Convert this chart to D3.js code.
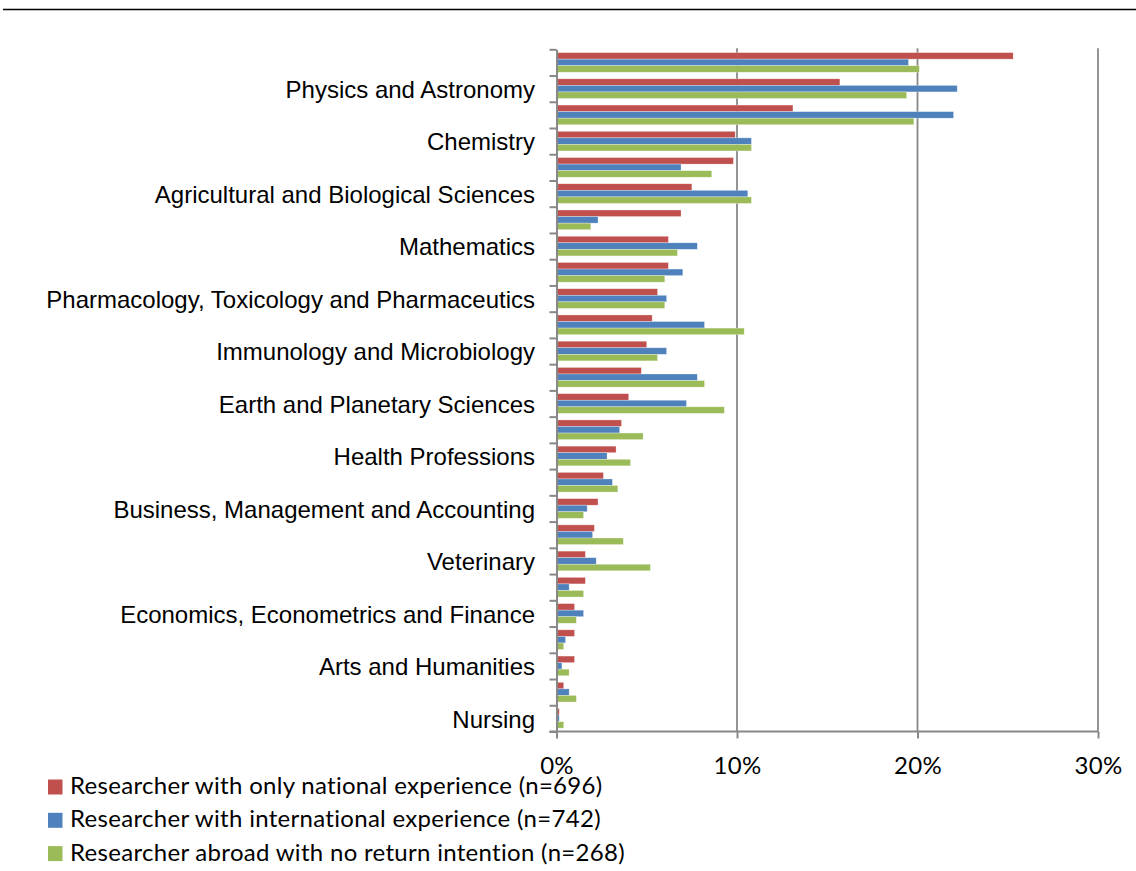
<!DOCTYPE html>
<html>
<head>
<meta charset="utf-8">
<script src="https://cdn.jsdelivr.net/npm/d3@7"></script>
<style>
  body { margin: 0; background: #fff; }
  .cat text { font-family: "Liberation Sans", Arial, sans-serif; font-size: 24px; fill: #000; }
  .xax text, .legend text { font-family: Lato, "Open Sans", sans-serif; font-size: 24px; letter-spacing: 0.3px; fill: #000; }
</style>
</head>
<body>
<div id="chart"></div>
<script>
// categories top to bottom; only every other one gets a label (as in the original)
var categories = [
  "Engineering", "Physics and Astronomy", "Materials Science", "Chemistry",
  "Biochemistry, Genetics and Molecular Biology", "Agricultural and Biological Sciences",
  "Medicine", "Mathematics", "Computer Science", "Pharmacology, Toxicology and Pharmaceutics",
  "Chemical Engineering", "Immunology and Microbiology", "Environmental Science",
  "Earth and Planetary Sciences", "Energy", "Health Professions", "Neuroscience",
  "Business, Management and Accounting", "Social Sciences", "Veterinary", "Decision Sciences",
  "Economics, Econometrics and Finance", "Psychology", "Arts and Humanities", "Dentistry", "Nursing"
];
var labelled = [
  "Physics and Astronomy", "Chemistry", "Agricultural and Biological Sciences", "Mathematics",
  "Pharmacology, Toxicology and Pharmaceutics", "Immunology and Microbiology",
  "Earth and Planetary Sciences", "Health Professions", "Business, Management and Accounting",
  "Veterinary", "Economics, Econometrics and Finance", "Arts and Humanities", "Nursing"
];

var seriesNames = [
  "Researcher with only national experience (n=696)",
  "Researcher with international experience (n=742)",
  "Researcher abroad with no return intention (n=268)"
];
var seriesColors = ["#C0504D", "#4F81BD", "#9BBB59"];

// percent values, same order as categories
var national = [25.3, 15.7, 13.1, 9.9, 9.8, 7.5, 6.9, 6.2, 6.2, 5.6, 5.3, 5.0, 4.7,
  4.0, 3.6, 3.3, 2.6, 2.3, 2.1, 1.6, 1.6, 1.0, 1.0, 1.0, 0.4, 0.15];
var international = [19.5, 22.2, 22.0, 10.8, 6.9, 10.6, 2.3, 7.8, 7.0, 6.1, 8.2, 6.1, 7.8,
  7.2, 3.5, 2.8, 3.1, 1.7, 2.0, 2.2, 0.7, 1.5, 0.5, 0.3, 0.7, 0.15];
var abroad = [20.1, 19.4, 19.8, 10.8, 8.6, 10.8, 1.9, 6.7, 6.0, 6.0, 10.4, 5.6, 8.2,
  9.3, 4.8, 4.1, 3.4, 1.5, 3.7, 5.2, 1.5, 1.1, 0.4, 0.7, 1.1, 0.4];

var xTicks = [0, 10, 20, 30];

var width = 1136, height = 871;
var plotLeft = 556.5, plotRight = 1098, plotTop = 49.3, plotBottom = 731.5;

var svg = d3.select("#chart").append("svg")
  .attr("width", width)
  .attr("height", height);

// rule across the top of the page
svg.append("line")
  .attr("x1", 3).attr("x2", width)
  .attr("y1", 9.5).attr("y2", 9.5)
  .attr("stroke", "#000").attr("stroke-width", 1.5);

var x = d3.scaleLinear().domain([0, 30]).range([plotLeft, plotRight]);

var y = d3.scaleBand().domain(categories).range([plotTop, plotBottom])
  .paddingInner(0.25).paddingOuter(0.125);

var y1 = d3.scaleBand().domain([0, 1, 2]).range([0, y.bandwidth()]);

// gridlines
svg.append("g").selectAll("line")
  .data(xTicks.slice(1))
  .enter().append("line")
  .attr("x1", function(d) { return x(d); })
  .attr("x2", function(d) { return x(d); })
  .attr("y1", plotTop - 1).attr("y2", plotBottom)
  .attr("stroke", "#888").attr("stroke-width", 1.8);

var rows = categories.map(function(c, i) {
  return { name: c, values: [national[i], international[i], abroad[i]] };
});

var groups = svg.append("g").selectAll("g")
  .data(rows)
  .enter().append("g")
  .attr("transform", function(d) { return "translate(0," + y(d.name) + ")"; });

groups.selectAll("rect")
  .data(function(d) { return d.values; })
  .enter().append("rect")
  .attr("x", x(0))
  .attr("y", function(d, i) { return y1(i); })
  .attr("width", function(d) { return x(d) - x(0); })
  .attr("height", y1.bandwidth())
  .attr("fill", function(d, i) { return seriesColors[i]; })
  .attr("stroke", "#fff")
  .attr("stroke-opacity", 0.5)
  .attr("stroke-width", 0.6);

// category axis: ticks at the boundaries between categories
var yEdge = d3.scaleLinear().domain([0, categories.length]).range([plotTop, plotBottom]);
var yAxis = svg.append("g")
  .attr("transform", "translate(" + x(0) + ",0)")
  .call(d3.axisLeft(yEdge).tickValues(d3.range(categories.length + 1)).tickFormat("").tickSize(7).tickSizeOuter(0));
yAxis.select(".domain").attr("stroke", "#888").attr("stroke-width", 2);
yAxis.selectAll(".tick line").attr("stroke", "#888").attr("stroke-width", 2);

var catLabels = svg.append("g").attr("class", "cat");
catLabels.selectAll("text")
  .data(labelled)
  .enter().append("text")
  .attr("x", 535)
  .attr("y", function(d) { return y(d) + y.bandwidth() / 2; })
  .attr("dy", "0.38em")
  .attr("text-anchor", "end")
  .text(function(d) { return d; });

// value axis
var xAxis = svg.append("g")
  .attr("class", "xax")
  .attr("transform", "translate(0," + plotBottom + ")")
  .call(d3.axisBottom(x).tickValues(xTicks).tickFormat(function(d) { return d + "%"; }).tickSize(7).tickSizeOuter(0).tickPadding(18));
xAxis.select(".domain").attr("stroke", "#888").attr("stroke-width", 2)
  .attr("d", "M" + (x(0) - 7) + ",0H" + x(30));
xAxis.selectAll(".tick line").attr("stroke", "#888").attr("stroke-width", 2);
xAxis.selectAll(".tick text").attr("font-family", null).attr("font-size", null).attr("fill", "#000");

// legend
var legend = svg.append("g").attr("class", "legend")
  .selectAll("g")
  .data(seriesNames)
  .enter().append("g")
  .attr("transform", function(d, i) { return "translate(48," + (779.5 + i * 33.3) + ")"; });

legend.append("rect")
  .attr("width", 14.5).attr("height", 15)
  .attr("fill", function(d, i) { return seriesColors[i]; });

legend.append("text")
  .attr("x", 22).attr("y", 14.5)
  .text(function(d) { return d; });
</script>
</body>
</html>
